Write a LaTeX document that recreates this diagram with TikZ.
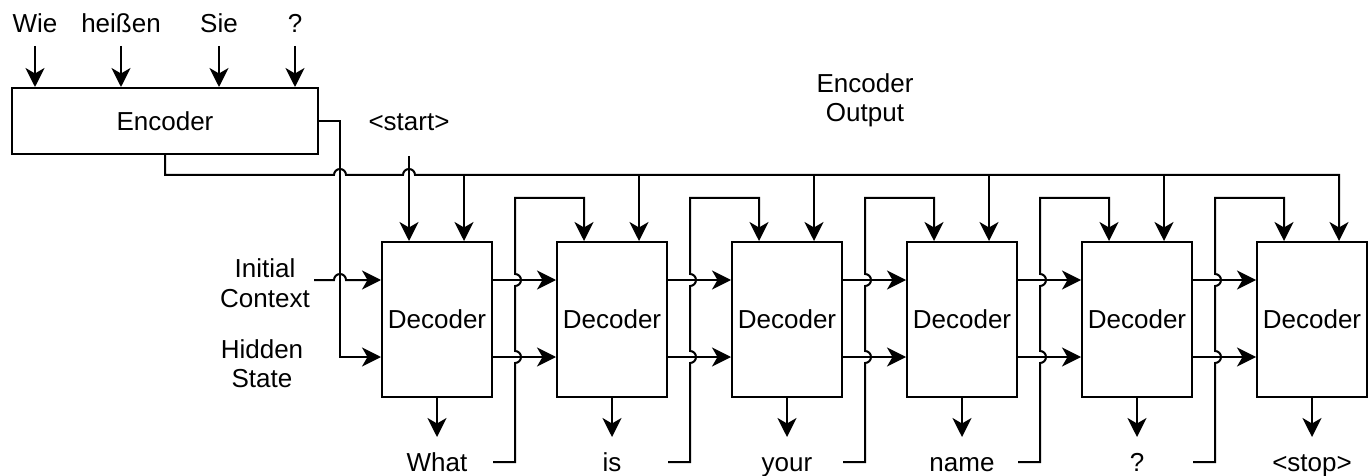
\documentclass[tikz,border=0pt]{standalone}
\usepackage{fontspec}
\setmainfont{Liberation Sans}
\usetikzlibrary{arrows.meta,positioning,calc}
\begin{document}
\begin{tikzpicture}[
    x=1pt, y=-1pt, line width=2pt,
    every node/.style={font=\fontsize{26}{29.5}\selectfont},
    box/.style={draw,line width=2pt,inner sep=0pt},
    word/.style={text height=18pt,text depth=5pt,inner ysep=7pt},
    flow/.style={-{Stealth[length=19pt,width=19pt,inset=5.5pt]}}]
    \useasboundingbox (0,0) rectangle (1369,476);
    \node[box,minimum width=306pt,minimum height=66pt] (enc) at (165,121) {Encoder};
    \foreach \w/\x [count=\i] in {Wie/35,heißen/121,Sie/219,?/295} {
        \node[word] (in\i) at (\x,26.5) {\w};
        \draw[flow] (in\i) -- (in\i |- enc.north);
    }
    \foreach \w [count=\i] in {What,is,your,name,?,<stop>} {
        \node[box,minimum width=110pt,minimum height=155pt] (dec\i)
            at ({437+175*(\i-1)},319.5) {Decoder};
        \node[word] (out\i) at (dec\i.south |- 0,464.5) {\w};
        \draw[flow,shorten >=8pt] (dec\i) -- (out\i);
        \coordinate (tl\i) at ([xshift=-28pt]dec\i.north);
        \coordinate (tr\i) at ([xshift=27pt]dec\i.north);
    }
    \node[word] (start) at (409,124.5) {<start>};
    \node[align=center] (ic) at (265,283) {Initial\\Context};
    \node[align=center] (hs) at (262,363.5) {Hidden\\State};
    \node[align=center] (eo) at (865,100.5) {Encoder\\Output};
    % encoder output bus
    \draw[flow] (enc.south) |- (334,175) arc[start angle=180,end angle=0,radius=6pt]
        -- ($(tl1 |- 0,175)+(-6,0)$) arc[start angle=180,end angle=0,radius=6pt]
        -- (tr6 |- 0,175) -- (tr6);
    \foreach \i in {1,...,5}
        \draw[flow] (tr\i |- 0,175) -- (tr\i);
    \draw[flow,shorten <=12pt] (start) -- (tl1);
    \draw[flow] (enc.east) -- (340,121) |- (dec1.west |- 0,357);
    \draw[flow] (ic.east |- 0,280) -- (334,280) arc[start angle=180,end angle=0,radius=6pt]
        -- (dec1.west |- 0,280);
    % state and feedback between decoders
    \foreach \i [evaluate=\i as \fx using {340+175*\i},
                 evaluate=\i as \j using {int(\i+1)}] in {1,...,5} {
        \draw[flow] (dec\i.east |- 0,280) -- (dec\j.west |- 0,280);
        \draw[flow] (dec\i.east |- 0,357) -- (dec\j.west |- 0,357);
        \coordinate (fb\i) at ({\fx-22},462);
        \draw[flow] (fb\i) -- (\fx,462)
            -- (\fx,363) arc[start angle=-90,end angle=90,radius=6pt]
            -- (\fx,286) arc[start angle=-90,end angle=90,radius=6pt]
            -- (\fx,198) -| (tl\j);
    }
\end{tikzpicture}
\end{document}
